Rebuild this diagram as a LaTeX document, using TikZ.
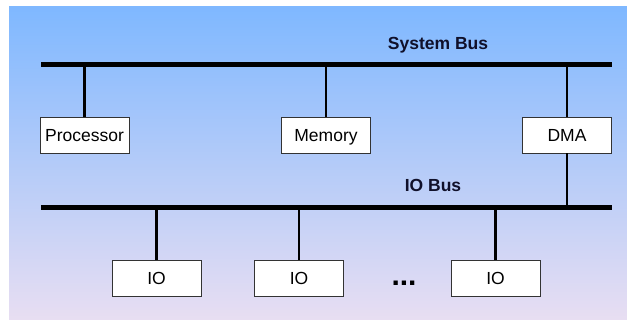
\documentclass[tikz,border=0pt]{standalone}
\usepackage{fontspec}
\setmainfont{Liberation Sans}
\usetikzlibrary{positioning}
\definecolor{skytop}{RGB}{127,184,255}
\definecolor{skymid}{RGB}{172,205,243}
\definecolor{skybot}{RGB}{232,222,242}
\definecolor{edge}{HTML}{333333}
\definecolor{ink}{HTML}{10102A}

\begin{document}
\begin{tikzpicture}[x=1pt,y=-1pt,
    unit/.style={draw=edge,fill=white,line width=0.8pt,minimum width=89pt,
      minimum height=36pt,inner sep=0pt,text height=12.6pt,text depth=0pt,
      font=\fontsize{17.5}{20}\selectfont},
    bus/.style={line width=5pt},
    tap/.style={line width=2.6pt},
    buslabel/.style={text=ink,font=\fontsize{17.5}{20}\selectfont\bfseries}]
  \useasboundingbox (0,0) rectangle (627,320);
  \shade[top color=skytop,middle color=skymid,bottom color=skybot] (9,7) rectangle (627,320);

  % system bus
  \coordinate (sysL) at (41,64.5);
  \coordinate (sysR) at (612,64.5);
  \draw[bus] (sysL) -- (sysR);
  \node[buslabel] (syslbl) at (438,45) {System Bus};

  \node[unit] (cpu) at (84.5,135) {Processor};
  \node[unit] (mem) at (326,135) {Memory};
  \node[unit] (dma) at (567,135) {DMA};
  \foreach \u in {cpu,mem,dma}
    \draw[tap] (\u.north) -- (\u.north |- sysL);

  % io bus
  \coordinate (ioL) at (41,208);
  \coordinate (ioR) at (612,208);
  \draw[bus] (ioL) -- (ioR);
  \node[buslabel] (iolbl) at (433,185) {IO Bus};
  \draw[tap] (dma.south) -- (dma.south |- ioL);

  \foreach \n/\x in {1/156.5,2/299,3/495.5}{
    \node[unit] (io\n) at (\x,278.5) {IO};
    \draw[tap] (io\n.north) -- (io\n.north |- ioL);}
  \node[font=\fontsize{30}{30}\selectfont\bfseries] (more) at (404,283) {...};
\end{tikzpicture}
\end{document}
